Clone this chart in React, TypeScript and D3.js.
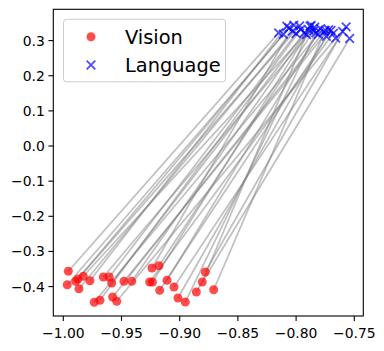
import React from 'react';
import * as d3 from 'd3';

// points, pair i of vision joins pair i of language
const visionX = [-0.9957, -0.9966, -0.9893, -0.9874, -0.9828, -0.9865, -0.9771, -0.9656, -0.9605, -0.9584,
  -0.9479, -0.9412, -0.9734, -0.9685, -0.9576, -0.9541, -0.9238, -0.9178, -0.9258, -0.9234,
  -0.9172, -0.9109, -0.9049, -0.9015, -0.8952, -0.8857, -0.8806, -0.878, -0.8708];
const visionY = [-0.3565, -0.3947, -0.385, -0.3784, -0.3707, -0.406, -0.3833, -0.3727, -0.3727, -0.3898,
  -0.385, -0.385, -0.4447, -0.439, -0.4296, -0.4419, -0.3471, -0.3406, -0.387, -0.387,
  -0.4106, -0.3821, -0.4012, -0.4325, -0.4439, -0.4154, -0.387, -0.3585, -0.4089];
const langX = [-0.815, -0.806, -0.797, -0.811, -0.789, -0.803, -0.808, -0.784, -0.8, -0.793,
  -0.772, -0.787, -0.781, -0.796, -0.776, -0.766, -0.802, -0.785, -0.768, -0.791,
  -0.77, -0.779, -0.757, -0.774, -0.783, -0.754, -0.788, -0.76, -0.775];
const langY = [0.322, 0.336, 0.342, 0.318, 0.33, 0.327, 0.341, 0.338, 0.32, 0.322,
  0.331, 0.343, 0.318, 0.332, 0.325, 0.307, 0.344, 0.327, 0.321, 0.317,
  0.329, 0.334, 0.339, 0.312, 0.322, 0.306, 0.341, 0.326, 0.33];

const xTicks = [-1.0, -0.95, -0.9, -0.85, -0.8, -0.75];
const yTicks = [-0.4, -0.3, -0.2, -0.1, 0.0, 0.1, 0.2, 0.3];

const W = 384;
const H = 351;
const left = 53.3, right = 363.3, top = 9.3, bottom = 316;

const font = 'DejaVu Sans, sans-serif';
const red = 'rgba(255,0,0,0.7)';
const blue = 'rgba(0,0,255,0.7)';

function XMark({ cx, cy, s }: { cx: number; cy: number; s: number }) {
  return (
    <path d={`M${cx - s},${cy - s}L${cx + s},${cy + s}M${cx - s},${cy + s}L${cx + s},${cy - s}`}
      stroke={blue} strokeWidth={1.8} fill="none" />
  );
}

export default function App() {
  const x = d3.scaleLinear().domain([-1.00859, -0.74227]).range([left, right]);
  const y = d3.scaleLinear().domain([-0.4837, 0.3891]).range([bottom, top]);
  const fx = d3.format('.2f');
  const fy = d3.format('.1f');

  return (
    <svg width={W} height={H} style={{ position: 'absolute', left: 0, top: 0, background: 'white' }}>
      {/* connecting lines */}
      {visionX.map((vx, i) => (
        <line key={'l' + i} x1={x(vx)} y1={y(visionY[i])} x2={x(langX[i])} y2={y(langY[i])}
          stroke="gray" strokeOpacity={0.5} strokeWidth={1.7} />
      ))}
      {visionX.map((vx, i) => (
        <circle key={'v' + i} cx={x(vx)} cy={y(visionY[i])} r={4.5} fill={red} />
      ))}
      {langX.map((lx, i) => (
        <XMark key={'x' + i} cx={x(lx)} cy={y(langY[i])} s={4.3} />
      ))}

      {/* frame */}
      <rect x={left} y={top} width={right - left} height={bottom - top} fill="none" stroke="black" strokeWidth={1.1} />

      {xTicks.map(t => (
        <g key={'xt' + t}>
          <line x1={x(t)} x2={x(t)} y1={bottom} y2={bottom + 4.9} stroke="black" strokeWidth={1.1} />
          <text x={x(t)} y={338} textAnchor="middle" fontFamily={font} fontSize={13.9}>{fx(t)}</text>
        </g>
      ))}
      {yTicks.map(t => (
        <g key={'yt' + t}>
          <line x1={left - 4.9} x2={left} y1={y(t)} y2={y(t)} stroke="black" strokeWidth={1.1} />
          <text x={left - 8.5} y={y(t) + 5} textAnchor="end" fontFamily={font} fontSize={13.9}>{fy(t)}</text>
        </g>
      ))}

      {/* legend */}
      <rect x={63.5} y={19.3} width={162} height={62.5} rx={3} fill="white" fillOpacity={0.8} stroke="#cccccc" strokeWidth={1} />
      <circle cx={91} cy={36.7} r={4.5} fill={red} />
      <text x={125} y={43.5} fontFamily={font} fontSize={19.4}>Vision</text>
      <XMark cx={91} cy={65} s={4.3} />
      <text x={125} y={71.8} fontFamily={font} fontSize={19.4}>Language</text>
    </svg>
  );
}
